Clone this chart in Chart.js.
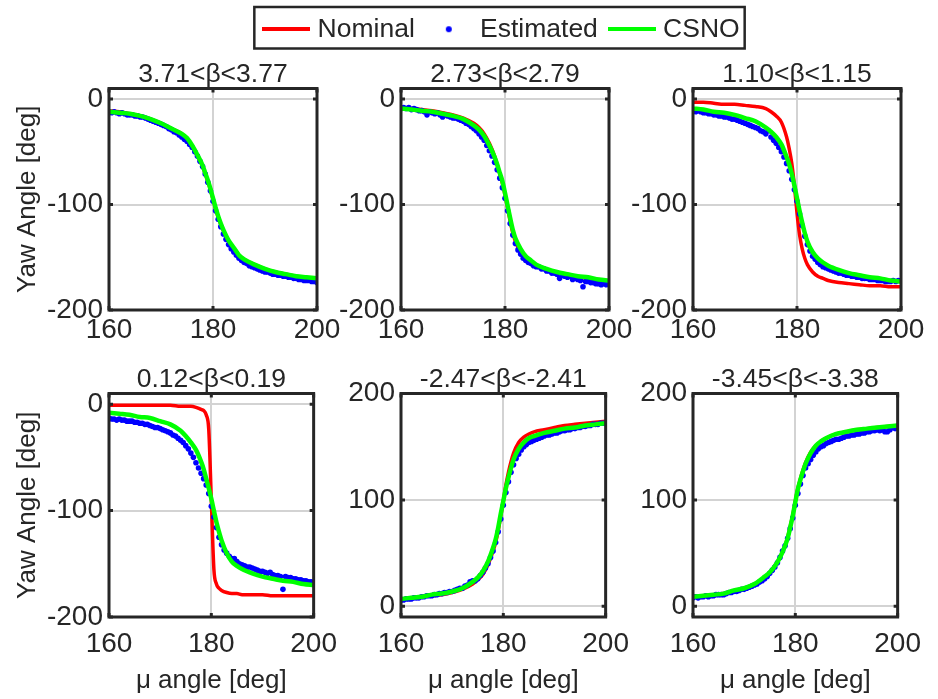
<!DOCTYPE html>
<html>
<head>
<meta charset="utf-8">
<script src="https://cdn.jsdelivr.net/npm/chart.js@4"></script>
<style>
  body { margin: 0; background: #ffffff; }
  #wrap { position: relative; width: 938px; height: 699px; overflow: hidden; }
  canvas { position: absolute; }
</style>
</head>
<body>
<div id="wrap">
  <canvas id="legend" width="938" height="140" style="left:0;top:0"></canvas>
  <canvas id="p0" width="347" height="305" style="left:0;top:50px"></canvas>
  <canvas id="p1" width="347" height="305" style="left:292px;top:50px"></canvas>
  <canvas id="p2" width="347" height="305" style="left:584px;top:50px"></canvas>
  <canvas id="p3" width="347" height="342" style="left:0;top:357px"></canvas>
  <canvas id="p4" width="347" height="342" style="left:292px;top:357px"></canvas>
  <canvas id="p5" width="347" height="342" style="left:584px;top:357px"></canvas>
</div>
<script>
// mu angle samples for the two line series
const muLine = [160, 162, 164, 166, 168, 170, 172, 174, 175, 176, 177, 178, 178.5, 179, 179.5, 180,
  180.5, 181, 181.5, 182, 183, 184, 185, 186, 188, 190, 192, 194, 196, 198, 200];

// mu angle samples for the estimated points
const muEst = [160, 160.5, 161, 161.5, 162, 162.5, 163, 163.5, 164, 164.5, 165, 165.5, 166, 166.5, 167, 167.5,
  168, 168.5, 169, 169.5, 170, 170.5, 171, 171.5, 172, 172.5, 173, 173.5, 174, 174.5, 175, 175.5,
  176, 176.5, 177, 177.5, 178, 178.5, 179, 179.5, 180, 180.5, 181, 181.5, 182, 182.5, 183, 183.5,
  184, 184.5, 185, 185.5, 186, 186.5, 187, 187.5, 188, 188.5, 189, 189.5, 190, 190.5, 191, 191.5,
  192, 192.5, 193, 193.5, 194, 194.5, 195, 195.5, 196, 196.5, 197, 197.5, 198, 198.5, 199, 199.5, 200];

const titles = ['3.71<β<3.77', '2.73<β<2.79', '1.10<β<1.15', '0.12<β<0.19', '-2.47<β<-2.41', '-3.45<β<-3.38'];
const yMins = [-200, -200, -200, -200, -10, -10];
const yMaxs = [10, 10, 10, 10, 200, 200];
const yTicksNeg = [-200, -100, 0];
const yTicksPos = [0, 100, 200];
const xTicks = [160, 180, 200];

// panel 1
const nominal1 = [-11, -12, -14, -16, -19, -23, -28, -33, -38, -45, -54, -64, -71, -78, -86, -95,
  -104, -112, -119, -125, -135, -142, -148, -152, -157, -161, -164, -166, -168, -170, -171];
const csno1 = [-12, -13, -14, -16, -19, -23, -28, -33, -37, -44, -53, -63, -70, -77, -85, -94,
  -103, -111, -118, -124, -134, -141, -148, -152, -157, -161, -164, -166, -168, -169, -170];
const estimated1 = [-12, -13, -12, -13, -14, -13, -14, -15, -15, -15, -16, -16, -17, -17, -18, -19,
  -20, -21, -22, -23, -24, -25, -26, -28, -29, -31, -32, -34, -36, -38, -40, -43,
  -46, -50, -54, -59, -64, -71, -79, -87, -97, -106, -114, -121, -128, -133, -138, -142,
  -145, -148, -151, -153, -155, -156, -158, -159, -160, -161, -162, -163, -164, -164, -165, -166,
  -166, -167, -167, -168, -168, -169, -169, -170, -170, -171, -171, -172, -172, -172, -173, -173, -174];

// panel 2
const nominal2 = [-8, -9, -10, -11, -13, -15, -18, -23, -27, -33, -42, -54, -62, -71, -80, -91,
  -103, -116, -127, -135, -145, -151, -155, -158, -162, -165, -167, -169, -170, -171, -173];
const csno2 = [-9, -10, -11, -12, -14, -16, -19, -25, -29, -35, -44, -55, -62, -70, -78, -89,
  -101, -113, -124, -132, -142, -149, -153, -157, -161, -164, -166, -168, -169, -171, -172];
const estimated2 = [-9, -8, -9, -8, -10, -9, -10, -11, -11, -12, -15, -12, -13, -14, -13, -15,
  -17, -15, -16, -17, -18, -18, -19, -20, -21, -23, -24, -26, -28, -30, -33, -36,
  -39, -44, -49, -54, -60, -67, -75, -84, -94, -106, -118, -129, -137, -143, -147, -151,
  -153, -155, -156, -158, -159, -159, -161, -161, -163, -163, -165, -165, -166, -170, -167, -168,
  -169, -168, -171, -170, -171, -172, -178, -173, -173, -174, -174, -175, -175, -176, -175, -176, -175];

// panel 3
const nominal3 = [-3, -3, -4, -5, -5, -6, -7, -9, -12, -16, -22, -36, -47, -61, -82, -108,
  -129, -142, -151, -157, -164, -168, -170, -172, -174, -175, -176, -177, -177, -178, -178];
const csno3 = [-9, -10, -12, -13, -15, -18, -21, -27, -31, -36, -43, -55, -62, -71, -82, -94,
  -106, -117, -127, -135, -145, -151, -155, -158, -162, -165, -167, -169, -170, -172, -173];
const estimated3 = [-11, -12, -11, -12, -13, -13, -14, -14, -15, -15, -16, -16, -17, -17, -18, -19,
  -19, -20, -21, -22, -23, -24, -25, -26, -27, -28, -30, -31, -33, -30, -36, -39,
  -42, -46, -50, -55, -61, -68, -76, -86, -97, -109, -120, -130, -138, -144, -149, -152,
  -155, -157, -159, -160, -161, -162, -163, -164, -165, -165, -166, -167, -167, -168, -168, -169,
  -169, -170, -170, -170, -171, -171, -171, -172, -172, -172, -173, -173, -173, -172, -173, -172, -172];

// panel 4
const nominal4 = [-1, -1, -1, -1, -1, -1, -1, -2, -2, -2, -3, -5, -6, -10, -24, -90,
  -155, -169, -173, -175, -177, -178, -178, -179, -179, -179, -180, -180, -180, -180, -180];
const csno4 = [-8, -9, -10, -12, -13, -16, -19, -25, -30, -36, -43, -54, -61, -70, -79, -89,
  -100, -111, -120, -128, -140, -148, -152, -155, -159, -162, -164, -166, -167, -169, -170];
const estimated4 = [-13, -14, -14, -15, -14, -15, -15, -16, -16, -16, -17, -17, -18, -18, -19, -19,
  -20, -21, -22, -22, -23, -24, -25, -26, -27, -29, -30, -32, -34, -36, -39, -42,
  -46, -50, -55, -60, -65, -70, -76, -84, -96, -106, -116, -125, -132, -137, -140, -143,
  -145, -145, -148, -150, -151, -152, -153, -153, -154, -155, -156, -157, -157, -158, -159, -158,
  -160, -161, -161, -162, -174, -162, -163, -163, -164, -164, -165, -165, -166, -166, -167, -167, -168];

// panel 5
const nominal5 = [7, 8, 9, 10, 11, 13, 16, 21, 25, 30, 39, 52, 60, 71, 85, 99,
  114, 126, 136, 144, 154, 159, 162, 164, 166, 168, 170, 171, 172, 173, 174];
const csno5 = [7, 8, 9, 11, 12, 14, 17, 23, 27, 33, 42, 55, 63, 74, 87, 99,
  111, 121, 130, 138, 148, 154, 158, 160, 163, 165, 167, 168, 170, 171, 172];
const estimated5 = [6, 6, 7, 7, 7, 8, 8, 8, 9, 9, 10, 10, 10, 11, 11, 12,
  12, 13, 13, 14, 14, 15, 16, 17, 17, 19, 20, 23, 24, 24, 26, 29,
  32, 36, 40, 46, 52, 60, 70, 82, 95, 107, 117, 126, 133, 139, 143, 147,
  150, 152, 154, 155, 156, 157, 158, 159, 160, 161, 161, 162, 163, 163, 164, 165,
  165, 166, 166, 167, 167, 168, 168, 169, 169, 170, 170, 171, 171, 171, 172, 172, 172];

// panel 6
const nominal6 = [9, 10, 11, 12, 14, 17, 21, 27, 32, 38, 46, 57, 65, 75, 86, 99,
  111, 120, 128, 135, 145, 151, 155, 158, 162, 164, 166, 167, 168, 169, 170];
const csno6 = [9, 10, 11, 12, 15, 17, 21, 28, 32, 38, 46, 57, 64, 74, 85, 98,
  110, 119, 127, 134, 144, 151, 155, 158, 162, 164, 166, 167, 168, 169, 170];
const estimated6 = [8, 9, 8, 9, 9, 10, 9, 10, 10, 11, 11, 11, 11, 12, 13, 13,
  14, 14, 15, 16, 16, 17, 18, 19, 20, 21, 23, 24, 26, 28, 31, 34,
  37, 41, 46, 52, 57, 64, 73, 83, 95, 106, 115, 123, 130, 134, 138, 142,
  145, 148, 150, 151, 153, 154, 155, 156, 157, 157, 158, 159, 160, 160, 161, 161,
  162, 162, 163, 163, 164, 164, 165, 165, 166, 165, 166, 164, 164, 166, 168, 167, 169];

const nominalAll = [nominal1, nominal2, nominal3, nominal4, nominal5, nominal6];
const estimatedAll = [estimated1, estimated2, estimated3, estimated4, estimated5, estimated6];
const csnoAll = [csno1, csno2, csno3, csno4, csno5, csno6];

const FONT = 'Liberation Sans, Arial, sans-serif';
const INK = '#262626';
const RED = '#ff0000';
const BLUE = '#0000ff';
const GREEN = '#00ff00';
const GRID = '#d3d3d3';

function pairs(xs, ys) {
  return xs.map((x, i) => ({ x: x, y: ys[i] }));
}

// box around the axes plus short inward tick marks, like MATLAB
const framePlugin = {
  id: 'frame',
  afterDatasetsDraw(chart) {
    const a = chart.chartArea;
    const ctx = chart.ctx;
    ctx.save();
    ctx.strokeStyle = INK;
    ctx.lineWidth = 3;
    const xs = chart.scales.x, ys = chart.scales.y;
    ctx.beginPath();
    xs.ticks.forEach(t => {
      const px = xs.getPixelForValue(t.value);
      ctx.moveTo(px, a.bottom); ctx.lineTo(px, a.bottom - 4);
      ctx.moveTo(px, a.top); ctx.lineTo(px, a.top + 4);
    });
    ys.ticks.forEach(t => {
      const py = ys.getPixelForValue(t.value);
      ctx.moveTo(a.left, py); ctx.lineTo(a.left + 4, py);
      ctx.moveTo(a.right, py); ctx.lineTo(a.right - 4, py);
    });
    ctx.stroke();
    ctx.strokeRect(a.left, a.top, a.right - a.left, a.bottom - a.top);
    ctx.restore();
  }
};

function makePanel(i) {
  const bottomRow = i >= 3;
  const firstCol = i % 3 === 0;
  const yTicks = yMins[i] < -100 ? yTicksNeg : yTicksPos;
  new Chart(document.getElementById('p' + i), {
    type: 'line',
    data: {
      datasets: [
        {
          label: 'CSNO',
          data: pairs(muLine, csnoAll[i]),
          borderColor: GREEN,
          borderWidth: 4.5,
          pointRadius: 0,
          cubicInterpolationMode: 'monotone',
          order: 1
        },
        {
          label: 'Estimated',
          data: pairs(muEst, estimatedAll[i]),
          showLine: false,
          pointRadius: 2.8,
          pointBorderWidth: 0,
          pointBackgroundColor: BLUE,
          order: 2
        },
        {
          label: 'Nominal',
          data: pairs(muLine, nominalAll[i]),
          borderColor: RED,
          borderWidth: 3.5,
          pointRadius: 0,
          cubicInterpolationMode: 'monotone',
          order: 3
        }
      ]
    },
    options: {
      responsive: false,
      animation: false,
      events: [],
      layout: { padding: { left: 0, right: 30, top: 0, bottom: 0 } },
      plugins: {
        legend: { display: false },
        tooltip: { enabled: false },
        title: {
          display: true,
          text: titles[i],
          fullSize: false,
          color: INK,
          font: { family: FONT, size: 26.5, weight: 'normal', lineHeight: 1 },
          padding: { top: bottomRow ? 9 : 11, bottom: 1 }
        }
      },
      scales: {
        x: {
          type: 'linear',
          min: 160,
          max: 200,
          afterBuildTicks: (s) => { s.ticks = xTicks.map(v => ({ value: v })); },
          afterFit: (s) => { s.height = bottomRow ? 82 : 45; },
          grid: { color: GRID, lineWidth: 2, drawTicks: false },
          border: { display: false },
          ticks: {
            color: INK,
            padding: bottomRow ? 10 : 3,
            maxRotation: 0,
            font: { family: FONT, size: 28 }
          },
          title: {
            display: bottomRow,
            text: 'μ angle [deg]',
            color: INK,
            font: { family: FONT, size: 26 },
            padding: { top: 0, bottom: 3 }
          }
        },
        y: {
          type: 'linear',
          min: yMins[i],
          max: yMaxs[i],
          afterBuildTicks: (s) => { s.ticks = yTicks.map(v => ({ value: v })); },
          afterFit: (s) => { s.width = 109; },
          grid: { color: GRID, lineWidth: 2, drawTicks: false },
          border: { display: false },
          ticks: {
            color: INK,
            padding: 6,
            font: { family: FONT, size: 28 }
          },
          title: {
            display: firstCol,
            text: 'Yaw Angle [deg]',
            color: INK,
            font: { family: FONT, size: 26 },
            padding: { top: 12, bottom: 0 }
          }
        }
      }
    },
    plugins: [framePlugin]
  });
}

for (let i = 0; i < 6; i++) makePanel(i);

// legend symbols drawn as small images
function symbol(w, h, draw) {
  const c = document.createElement('canvas');
  c.width = w; c.height = h;
  draw(c.getContext('2d'));
  return c;
}
const redLine = symbol(48, 4, g => { g.fillStyle = RED; g.fillRect(0, 0, 48, 4); });
const blueDot = symbol(8, 8, g => { g.fillStyle = BLUE; g.beginPath(); g.arc(4, 4, 3, 0, Math.PI * 2); g.fill(); });
const greenLine = symbol(48, 4, g => { g.fillStyle = GREEN; g.fillRect(0, 0, 48, 4); });

const legendBox = {
  id: 'legendBox',
  afterDraw(chart) {
    const boxes = chart.legend.legendHitBoxes;
    if (!boxes || !boxes.length) return;
    const first = boxes[0], last = boxes[boxes.length - 1];
    const ctx = chart.ctx;
    ctx.save();
    ctx.strokeStyle = INK;
    ctx.lineWidth = 2.5;
    ctx.strokeRect(first.left - 14, first.top - 9, last.left + last.width - first.left + 19, first.height + 15);
    ctx.restore();
  }
};

new Chart(document.getElementById('legend'), {
  type: 'line',
  data: {
    datasets: [
      { label: 'Nominal', data: [], pointStyle: redLine, borderColor: RED },
      { label: 'Estimated', data: [], pointStyle: blueDot, borderColor: BLUE },
      { label: 'CSNO', data: [], pointStyle: greenLine, borderColor: GREEN }
    ]
  },
  options: {
    responsive: false,
    animation: false,
    events: [],
    layout: { padding: { left: 70, right: 0, top: 0, bottom: 0 } },
    scales: { x: { display: false }, y: { display: false } },
    plugins: {
      tooltip: { enabled: false },
      legend: {
        display: true,
        position: 'top',
        labels: {
          usePointStyle: true,
          pointStyleWidth: 36,
          padding: 16,
          color: INK,
          font: { family: FONT, size: 26.5 }
        }
      }
    }
  },
  plugins: [legendBox]
});
</script>
</body>
</html>
